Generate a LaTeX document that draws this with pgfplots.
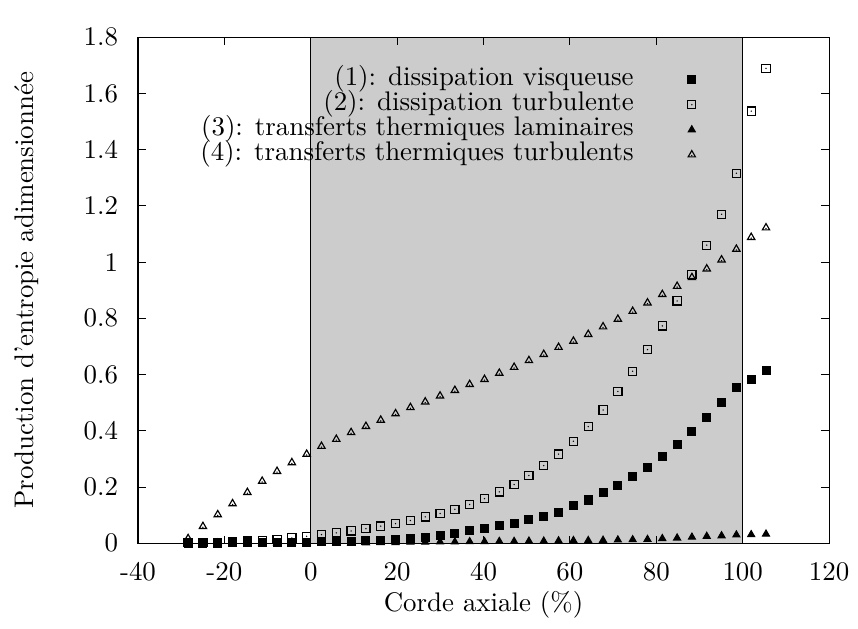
\documentclass[border=0pt]{standalone}
\usepackage{pgfplots}
\pgfplotsset{compat=1.18}
\usepackage{pgfplotstable}

% open square / triangle with a small dot in the middle (gnuplot style)
\pgfdeclareplotmark{sqdot}{%
  \pgfpathrectangle{\pgfpoint{-\pgfplotmarksize}{-\pgfplotmarksize}}{\pgfpoint{2\pgfplotmarksize}{2\pgfplotmarksize}}%
  \pgfusepathqstroke
  \pgfpathcircle{\pgfpointorigin}{0.3pt}\pgfusepathqfill}
\pgfdeclareplotmark{tridot}{%
  \pgfpathmoveto{\pgfpointpolar{90}{\pgfplotmarksize}}%
  \pgfpathlineto{\pgfpointpolar{210}{\pgfplotmarksize}}%
  \pgfpathlineto{\pgfpointpolar{330}{\pgfplotmarksize}}%
  \pgfpathclose\pgfusepathqstroke
  \pgfpathcircle{\pgfpoint{0pt}{-0.2\pgfplotmarksize}}{0.3pt}\pgfusepathqfill}

\pgfplotstableread{
x       s1     s2     s3     s4
-28.40  0.001  0.002  0.001  0.017
-24.97  0.001  0.003  0.001  0.060
-21.54  0.001  0.004  0.001  0.102
-18.11  0.002  0.006  0.001  0.141
-14.68  0.002  0.008  0.001  0.181
-11.25  0.003  0.010  0.001  0.221
-7.81   0.003  0.014  0.001  0.256
-4.38   0.004  0.019  0.001  0.287
-0.95   0.004  0.025  0.001  0.317
2.48    0.005  0.031  0.002  0.345
5.91    0.006  0.037  0.002  0.370
9.34    0.007  0.044  0.002  0.394
12.77   0.009  0.052  0.002  0.416
16.20   0.011  0.061  0.003  0.438
19.63   0.013  0.070  0.003  0.461
23.07   0.017  0.081  0.004  0.483
26.50   0.022  0.094  0.004  0.503
29.93   0.029  0.106  0.005  0.524
33.36   0.036  0.121  0.005  0.544
36.79   0.044  0.138  0.006  0.565
40.22   0.051  0.159  0.006  0.583
43.65   0.062  0.183  0.007  0.605
47.08   0.072  0.209  0.007  0.626
50.51   0.083  0.241  0.008  0.650
53.94   0.097  0.276  0.008  0.672
57.37   0.111  0.317  0.009  0.697
60.81   0.133  0.363  0.010  0.719
64.24   0.154  0.415  0.010  0.743
67.67   0.179  0.474  0.011  0.770
71.10   0.207  0.540  0.012  0.797
74.53   0.237  0.612  0.013  0.825
77.96   0.271  0.689  0.014  0.855
81.39   0.307  0.773  0.017  0.885
84.82   0.350  0.862  0.019  0.914
88.25   0.399  0.957  0.022  0.945
91.68   0.448  1.060  0.025  0.976
95.11   0.502  1.170  0.027  1.008
98.54   0.553  1.316  0.030  1.046
101.97  0.584  1.537  0.031  1.088
105.40  0.613  1.689  0.033  1.122
}\entropie

\begin{document}
\begin{tikzpicture}[font=\fontsize{10.5pt}{12.6pt}\selectfont]
\begin{axis}[
  scale only axis,
  width=269.9pt, height=197.7pt,
  xmin=-40, xmax=120, ymin=0, ymax=1.8,
  xtick={-40,-20,0,20,40,60,80,100,120},
  xticklabels={-40,-20,0,20,40,60,80,100,120},
  ytick={0,0.2,0.4,0.6,0.8,1,1.2,1.4,1.6,1.8},
  /pgf/number format/assume math mode=true,
  tick align=inside, xtick pos=both, ytick pos=both,
  major tick length=3pt,
  tick style={black, line width=0.4pt},
  xticklabel style={yshift=-4pt},
  yticklabel style={xshift=-4.3pt},
  axis on top,
  xlabel={Corde axiale (\%)},
  ylabel={Production d'entropie adimensionnée},
  every axis x label/.style={at={(axis description cs:0.5,-0.1224)}, anchor=center},
  every axis y label/.style={at={(axis description cs:-0.1605,0.5)}, anchor=center, rotate=90},
  legend plot pos=right,
  legend cell align=right,
  legend style={draw=none, fill=none, inner sep=0pt, outer sep=0pt,
    at={(axis description cs:0.8073,0.9405)}, anchor=north east,
    column sep=21.1pt, row sep=0pt,
    nodes={inner sep=0pt, text height=7.3pt, text depth=2.47pt}},
]
\coordinate (sw) at (rel axis cs:0,0);
\coordinate (ne) at (rel axis cs:1,1);

% zone entre bord d'attaque et bord de fuite
\addplot[fill=gray!40, draw=black, line width=0.5pt, forget plot]
  coordinates {(0,0) (0,1.8) (100,1.8) (100,0)} -- cycle;

\addplot[only marks, mark=square*, mark size=1.56pt, black] table[x=x, y=s1] {\entropie};
\addlegendentry{(1): dissipation visqueuse}
\addplot[only marks, mark=sqdot, mark size=1.6pt, black, line width=0.45pt] table[x=x, y=s2] {\entropie};
\addlegendentry{(2): dissipation turbulente}
\addplot[only marks, mark=triangle*, mark size=1.58pt, black] table[x=x, y=s3] {\entropie};
\addlegendentry{(3): transferts thermiques laminaires}
\addplot[only marks, mark=tridot, mark size=1.65pt, black, line width=0.45pt] table[x=x, y=s4] {\entropie};
\addlegendentry{(4): transferts thermiques turbulents}

\node[anchor=base, yshift=3.5pt] at (axis cs:6.9,1.8) {LE};
\node[anchor=base, yshift=3.5pt] at (axis cs:91.6,1.8) {TE};
\end{axis}
\pgfresetboundingbox
\path[use as bounding box] ([shift={(-53.9pt,-33.2pt)}]sw) rectangle ([shift={(11.3pt,14.5pt)}]ne);
\end{tikzpicture}
\end{document}
